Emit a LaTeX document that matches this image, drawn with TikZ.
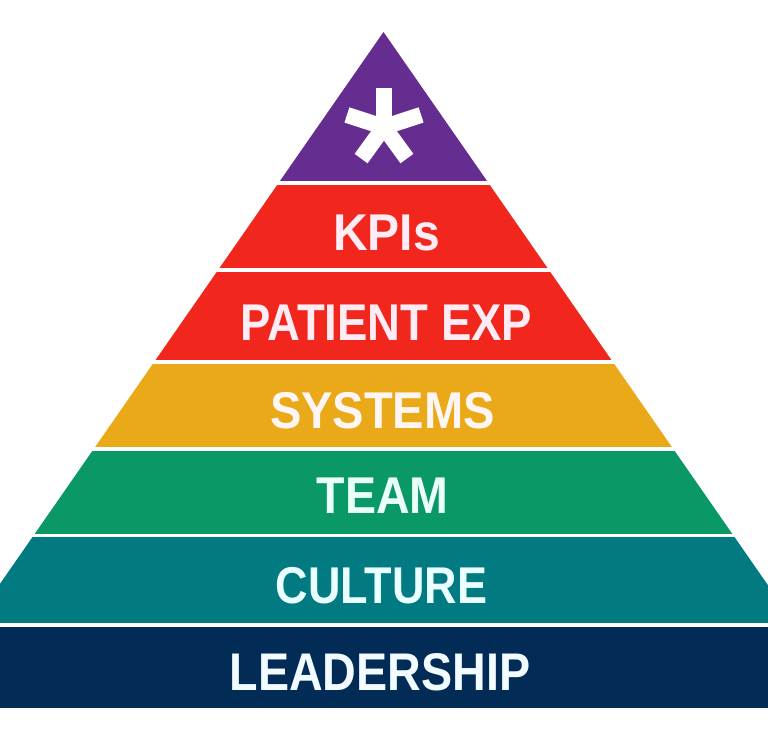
\documentclass[tikz,border=0pt]{standalone}
\usepackage{fontspec}
\setmainfont{Liberation Sans}
\definecolor{cpurple}{HTML}{662D91}
\definecolor{cred}{HTML}{F1261C}
\definecolor{cyellow}{HTML}{EAA918}
\definecolor{cgreen}{HTML}{0A9966}
\definecolor{cteal}{HTML}{027A82}
\definecolor{cnavy}{HTML}{022C55}
\definecolor{tred}{HTML}{FFECF4}
\definecolor{tyel}{HTML}{FFF6F4}
\definecolor{tgrn}{HTML}{EAFFF8}
\definecolor{tteal}{HTML}{EAFFFF}
\definecolor{tnavy}{HTML}{F2FBFF}
\newcommand{\hsq}[2]{\scalebox{#1}[1]{#2}}
\begin{document}
\begin{tikzpicture}[x=1pt,y=-1pt,
  lbl/.style={font=\fontsize{51.7}{52}\selectfont\bfseries, anchor=base, inner sep=0pt},
  arm/.style={white, line width=16pt, line cap=butt}]
\useasboundingbox (0,0) rectangle (768,750);
\fill[white] (0,0) rectangle (768,750);
\begin{scope}
  \clip (0,0) rectangle (768,750);
  \clip (383.5,32) -- (-86.3,708) -- (853.3,708) -- cycle;
  \fill[cpurple] (0,0)   rectangle (768,181);
  \fill[cred]    (0,185) rectangle (768,268);
  \fill[cred]    (0,272) rectangle (768,360);
  \fill[cyellow] (0,364) rectangle (768,447);
  \fill[cgreen]  (0,451) rectangle (768,534);
  \fill[cteal]   (0,537) rectangle (768,623);
  \fill[cnavy]   (0,627) rectangle (768,708);
\end{scope}
% asterisk
\coordinate (ast) at (384,127);
\draw[arm] (ast) -- ++(0,-39);
\draw[arm] (ast) -- ++(37.1,-12.05);
\draw[arm] (ast) -- ++(-37.1,-12.05);
\draw[arm] (ast) -- ++(22.9,31.55);
\draw[arm] (ast) -- ++(-22.9,31.55);
\fill[white] (ast) circle (8.5);
% labels
\node[lbl, text=tred]  (kpi)  at (386.5,250) {\hsq{0.93}{KPIs}};
\node[lbl, text=tred]  (pat)  at (386.5,340) {\hsq{0.88}{PATIENT EXP}};
\node[lbl, text=tyel]  (sys)  at (382.5,428) {\hsq{0.91}{SYSTEMS}};
\node[lbl, text=tgrn]  (team) at (382.5,513) {\hsq{0.9}{TEAM}};
\node[lbl, text=tteal] (cult) at (381.5,603) {\hsq{0.87}{CULTURE}};
\node[lbl, text=tnavy, font=\fontsize{53}{53}\selectfont\bfseries] (lead) at (380,690) {\hsq{0.88}{LEADERSHIP}};
\end{tikzpicture}
\end{document}
